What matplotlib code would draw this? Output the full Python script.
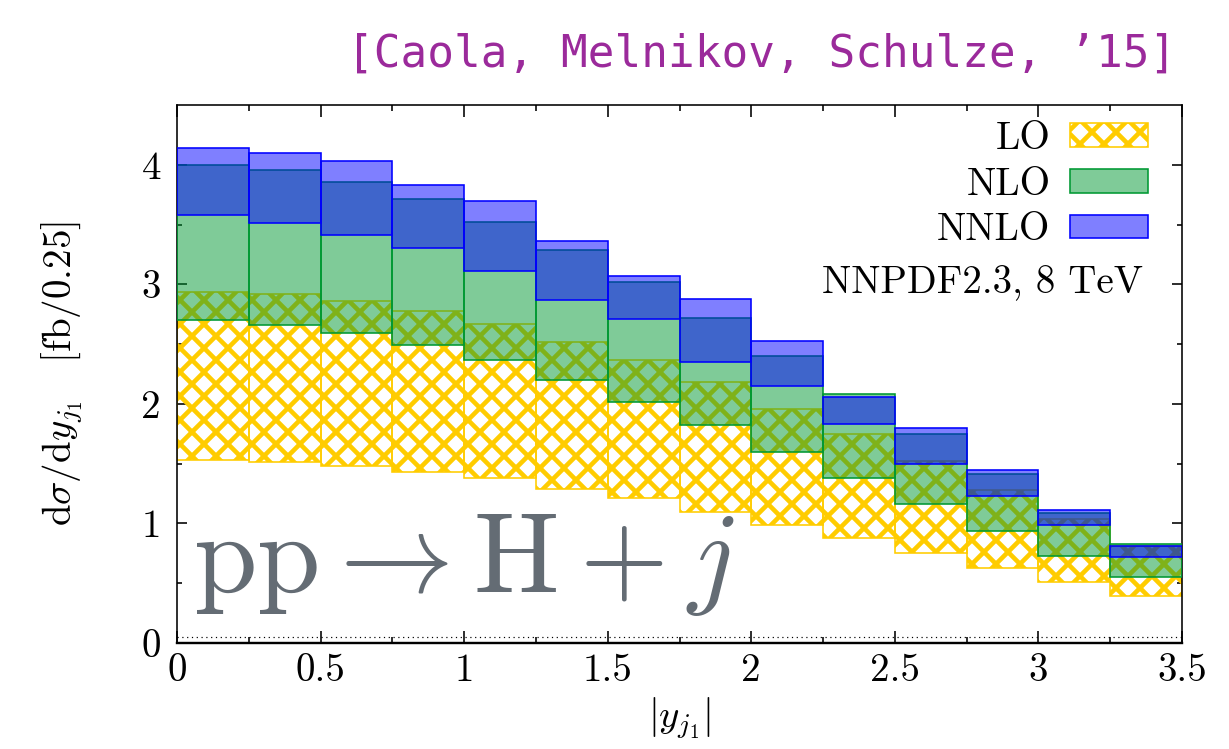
import numpy as np
import matplotlib
matplotlib.use("Agg")
import matplotlib.pyplot as plt
from matplotlib.patches import Patch

# bins in |y_j1| (left edges, width 0.25)
bin_left = [0.0, 0.25, 0.5, 0.75, 1.0, 1.25, 1.5, 1.75, 2.0, 2.25, 2.5, 2.75, 3.0, 3.25]
bin_width = 0.25

# scale-variation bands, lower / upper edge, fb/0.25
lo_low = [1.53, 1.51, 1.48, 1.43, 1.38, 1.29, 1.21, 1.10, 0.99, 0.88, 0.75, 0.625, 0.51, 0.39]
lo_high = [2.94, 2.92, 2.86, 2.78, 2.67, 2.52, 2.37, 2.18, 1.96, 1.75, 1.52, 1.28, 1.04, 0.815]
nlo_low = [2.70, 2.66, 2.59, 2.49, 2.37, 2.20, 2.02, 1.82, 1.60, 1.38, 1.16, 0.94, 0.73, 0.55]
nlo_high = [4.00, 3.96, 3.86, 3.71, 3.52, 3.29, 3.02, 2.72, 2.40, 2.08, 1.75, 1.41, 1.09, 0.83]
nnlo_low = [3.58, 3.51, 3.41, 3.30, 3.11, 2.87, 2.71, 2.35, 2.15, 1.83, 1.50, 1.23, 0.985, 0.72]
nnlo_high = [4.14, 4.10, 4.03, 3.83, 3.70, 3.36, 3.07, 2.88, 2.53, 2.06, 1.80, 1.45, 1.115, 0.815]

xticks = [0, 0.5, 1, 1.5, 2, 2.5, 3, 3.5]
xtick_labels = ['0', '0.5', '1', '1.5', '2', '2.5', '3', '3.5']
yticks = [0, 1, 2, 3, 4]
ytick_labels = ['0', '1', '2', '3', '4']

LO_COL = '#ffcc00'
NLO_COL = '#009933'
NNLO_COL = '#0000ff'

plt.rcParams['font.family'] = 'serif'
plt.rcParams['font.serif'] = ['cmr10']
plt.rcParams['mathtext.fontset'] = 'cm'
plt.rcParams['axes.unicode_minus'] = False
plt.rcParams['hatch.linewidth'] = 2.3

DPI = 144
fig = plt.figure(figsize=(1229 / DPI, 749 / DPI), dpi=DPI)
ax = fig.add_axes([0.144, 0.1415, 0.8178, 0.7183])

lo_h = np.array(lo_high) - np.array(lo_low)
nlo_h = np.array(nlo_high) - np.array(nlo_low)
nnlo_h = np.array(nnlo_high) - np.array(nnlo_low)

ax.bar(bin_left, lo_h, bottom=lo_low, width=bin_width, align='edge',
       facecolor='none', edgecolor=LO_COL, hatch='xx', linewidth=0.8, zorder=2)
ax.bar(bin_left, nlo_h, bottom=nlo_low, width=bin_width, align='edge',
       facecolor=(0, 0.6, 0.2, 0.5), edgecolor=NLO_COL, linewidth=0.8, zorder=3)
ax.bar(bin_left, nnlo_h, bottom=nnlo_low, width=bin_width, align='edge',
       facecolor=(0, 0, 1, 0.5), edgecolor=NNLO_COL, linewidth=0.8, zorder=4)

# dotted zero line
ax.axhline(0.05, color='k', lw=0.6, ls=(0, (1, 3)), zorder=1)

ax.set_xlim(0, 3.5)
ax.set_ylim(0, 4.5)
ax.set_xticks(xticks)
ax.set_xticklabels(xtick_labels)
ax.set_xticks(np.arange(0.25, 3.5, 0.5), minor=True)
ax.set_yticks(yticks)
ax.set_yticklabels(ytick_labels)
ax.set_yticks(np.arange(0.5, 4.5, 1.0), minor=True)
ax.tick_params(which='both', direction='in', top=True, right=True, labelsize=19.5)
ax.tick_params(axis='x', which='major', length=6, width=0.8, pad=5)
ax.tick_params(axis='x', which='minor', length=3, width=0.8)
ax.tick_params(axis='y', which='major', length=5, width=0.8, pad=8)
ax.tick_params(axis='y', which='minor', length=2.5, width=0.8)
for s in ax.spines.values():
    s.set_linewidth(0.8)
ax.spines['bottom'].set_linewidth(1.2)

ax.set_xlabel(r'$|y_{j_1}|$', fontsize=19.5, labelpad=3)
ax.set_ylabel(r'$\mathrm{d}\sigma/\mathrm{d}y_{j_1}\quad[\mathrm{fb}/0.25]$', fontsize=19.5, labelpad=28)

handles = [Patch(facecolor='none', edgecolor=LO_COL, hatch='xx', linewidth=0.8),
           Patch(facecolor=(0, 0.6, 0.2, 0.5), edgecolor=NLO_COL, linewidth=0.8),
           Patch(facecolor=(0, 0, 1, 0.5), edgecolor=NNLO_COL, linewidth=0.8)]
ax.legend(handles, ['LO', 'NLO', 'NNLO'], loc='upper right', bbox_to_anchor=(0.966, 0.97),
          frameon=False, markerfirst=False, fontsize=19.5, handlelength=2.0,
          handleheight=0.56, handletextpad=0.5, labelspacing=0.25, borderpad=0, borderaxespad=0)

ax.text(0.961, 0.6506, 'NNPDF2.3, 8 TeV', transform=ax.transAxes, ha='right', va='baseline',
        fontsize=19.5)
ax.text(0.016, 0.095, r'$\mathrm{pp}\rightarrow\mathrm{H}+j$', transform=ax.transAxes,
        ha='left', va='baseline', fontsize=57, color='#646c74', zorder=6)

fig.text(1176 / 1229, 1 - 67 / 749, '[Caola, Melnikov, Schulze, \u201915]', ha='right',
         va='baseline', family=['DejaVu Sans Mono'], fontsize=22.2, color='#9b2a9b')

fig.savefig('out.png', dpi=DPI)
